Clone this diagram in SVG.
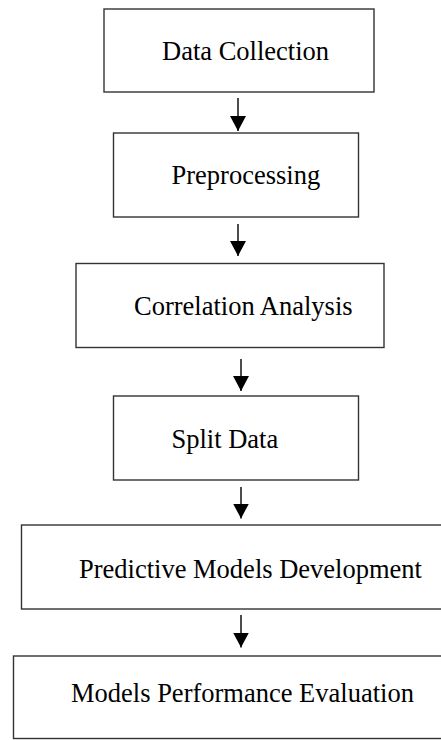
<svg xmlns="http://www.w3.org/2000/svg" width="441" height="740" viewBox="0 0 441 740">
  <style>
    .box { fill: #ffffff; stroke: #333333; stroke-width: 1.4; }
    .label { font-family: "Liberation Serif", "Times New Roman", serif; font-size: 26.5px; fill: #000000; }
    .flow { stroke: #000000; stroke-width: 1.4; fill: none; marker-end: url(#head); }
  </style>
  <defs>
    <marker id="head" markerUnits="userSpaceOnUse" markerWidth="18" markerHeight="18" refX="15" refY="8" orient="auto">
      <path d="M0,0 L15,8 L0,16 Z" fill="#000000"/>
    </marker>
  </defs>
  <rect width="441" height="740" fill="#ffffff"/>

  <g id="data-collection">
    <rect class="box" x="104" y="9" width="270" height="83"/>
    <text class="label" x="162" y="60">Data Collection</text>
  </g>

  <g id="preprocessing">
    <rect class="box" x="113.5" y="133" width="245" height="84"/>
    <text class="label" x="171.5" y="183.5">Preprocessing</text>
  </g>

  <g id="correlation-analysis">
    <rect class="box" x="76" y="263.5" width="308" height="84"/>
    <text class="label" x="134" y="314.5">Correlation Analysis</text>
  </g>

  <g id="split-data">
    <rect class="box" x="113.5" y="396" width="245" height="84"/>
    <text class="label" x="171.5" y="447.5">Split Data</text>
  </g>

  <g id="model-development">
    <rect class="box" x="21.5" y="525" width="430" height="84"/>
    <text class="label" x="79" y="577.5">Predictive Models Development</text>
  </g>

  <g id="performance-evaluation">
    <rect class="box" x="13.5" y="656" width="440" height="82.5"/>
    <text class="label" x="71" y="701.5">Models Performance Evaluation</text>
  </g>

  <g id="connectors">
    <line class="flow" x1="238" y1="98" x2="238" y2="131"/>
    <line class="flow" x1="238" y1="224" x2="238" y2="256"/>
    <line class="flow" x1="241" y1="359" x2="241" y2="391"/>
    <line class="flow" x1="241" y1="487" x2="241" y2="518.5"/>
    <line class="flow" x1="241" y1="615" x2="241" y2="647.5"/>
  </g>
</svg>
